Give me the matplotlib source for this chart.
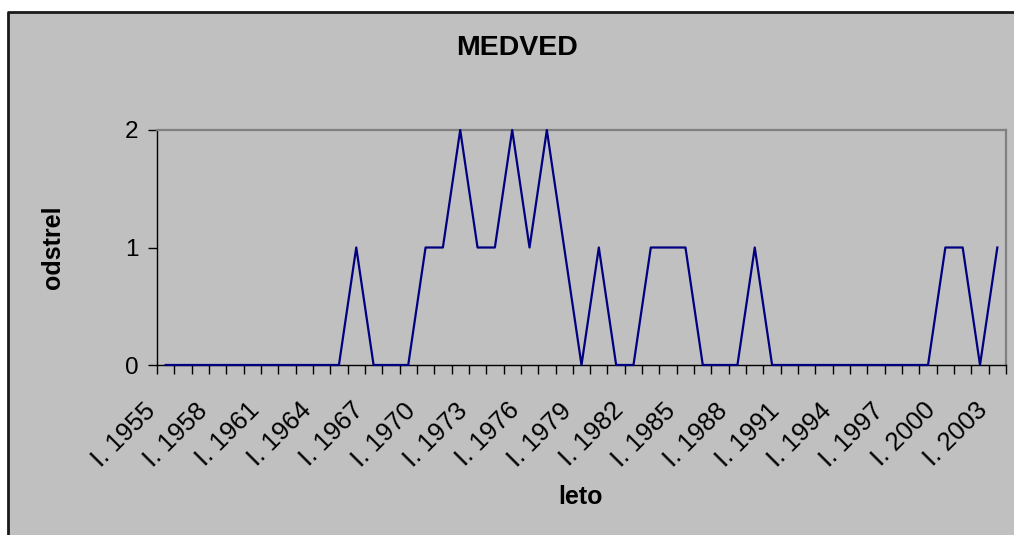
import matplotlib.pyplot as plt
from matplotlib.lines import Line2D
from matplotlib.transforms import ScaledTranslation

plt.rcParams['font.family'] = ['Liberation Sans', 'DejaVu Sans']

years = list(range(1955, 2004))
odstrel = [0, 0, 0, 0, 0, 0, 0, 0, 0, 0,
           0, 1, 0, 0, 0, 1, 1, 2, 1, 1,
           2, 1, 2, 1, 0, 1, 0, 0, 1, 1,
           1, 0, 0, 0, 1, 0, 0, 0, 0, 0,
           0, 0, 0, 0, 0, 1, 1, 0, 1]
label_every = 3

fig = plt.figure(figsize=(10.14, 5.35), dpi=100)
fig.patch.set_facecolor('#c0c0c0')

# white margin + black border on the left and top of the chart area
bx, by = 8 / 1014, 1 - 12 / 535
fig.patches.append(plt.Rectangle((0, 0), bx, 1, transform=fig.transFigure,
                                 facecolor='white', edgecolor='none', zorder=-5))
fig.patches.append(plt.Rectangle((0, by), 1, 1 - by, transform=fig.transFigure,
                                 facecolor='white', edgecolor='none', zorder=-5))
fig.lines.append(Line2D([bx, bx, 1], [0, by, by], transform=fig.transFigure,
                        color='#1a1a1a', linewidth=2))

ax = fig.add_axes([157 / 1014, 170 / 535, 849 / 1014, 235 / 535])
ax.set_facecolor('#c0c0c0')

x = list(range(len(years)))
ax.plot(x, odstrel, color='#000080', linewidth=1.6, clip_on=False, zorder=3)

ax.set_xlim(-0.5, len(years) - 0.5)
ax.set_ylim(0, 2)

for side in ['top', 'right']:
    ax.spines[side].set_color('#808080')
    ax.spines[side].set_linewidth(1.6)
for side in ['left', 'bottom']:
    ax.spines[side].set_color('black')
    ax.spines[side].set_linewidth(1.0)

ax.set_yticks([0, 1, 2])
ax.set_yticklabels(['0', '1', '2'], fontsize=17.5)
ax.tick_params(axis='y', direction='out', length=6.5, width=1, pad=7)

# category boundaries as minor ticks, labels at every 3rd category
ax.set_xticks([i - 0.5 for i in range(len(years) + 1)], minor=True)
ax.set_xticks(x[::label_every])
ax.set_xticklabels(['I. %d' % y for y in years[::label_every]],
                   rotation=45, ha='right', va='top', fontsize=18.5)
ax.tick_params(axis='x', which='minor', direction='out', length=6.5, width=1)
ax.tick_params(axis='x', which='major', length=0, pad=24)
offset = ScaledTranslation(-5 / 100, 0, fig.dpi_scale_trans)
for lab in ax.get_xticklabels():
    lab.set_transform(lab.get_transform() + offset)

fig.text(517 / 1014, 1 - 48 / 535, 'MEDVED', ha='center', va='center',
         fontsize=20.5, fontweight='bold')
fig.text(53 / 1014, 1 - 247 / 535, 'odstrel', ha='center', va='center',
         rotation=90, fontsize=18, fontweight='bold')
fig.text(581 / 1014, 1 - 497 / 535, 'leto', ha='center', va='center',
         fontsize=18, fontweight='bold')

fig.savefig('out.png', dpi=100, facecolor=fig.get_facecolor())
